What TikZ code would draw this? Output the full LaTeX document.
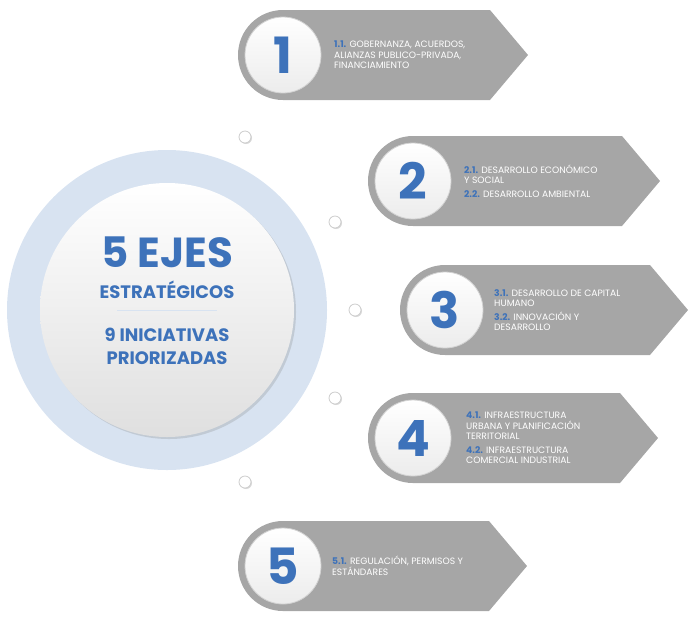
\documentclass[tikz,border=0pt]{standalone}
\usepackage{fontspec}
\setmainfont{Poppins}
\usetikzlibrary{shadows}
\definecolor{bl}{HTML}{3D72BA}
\definecolor{ring}{HTML}{D8E3F1}
\definecolor{gr}{HTML}{A6A6A6}
\tikzset{
  banner/.style={fill=gr, draw=none},
  numdisk/.style={circle, minimum size=76pt, inner sep=0pt, top color=white, bottom color=gray!15, draw=gray!35, line width=0.8pt, text=bl, font=\fontsize{50}{50}\selectfont\bfseries},
  dot/.style={circle, minimum size=12pt, inner sep=0pt, fill=white, draw=gray!40, line width=0.8pt, drop shadow={shadow xshift=1pt, shadow yshift=-1pt, opacity=0.3}},
  btxt/.style={anchor=west, text=white, align=left, font=\fontsize{9.2}{10.5}\selectfont, inner sep=0pt},
  ctr/.style={text=bl, font=\bfseries, align=center}
}
\newcommand{\lab}[1]{\textcolor{bl}{\bfseries #1}}
\newcommand{\bannershape}[3]{% cx cy tip
  \fill[banner] (#1,#2-45) -- (#3-38,#2-45) -- (#3,#2) -- (#3-38,#2+45) -- (#1,#2+45) arc[start angle=90, end angle=270, radius=45] -- cycle;}
\begin{document}
\begin{tikzpicture}[x=1pt,y=-1pt]
\useasboundingbox (0,0) rectangle (700,622);
% central
\node[circle, minimum size=320pt, fill=ring, inner sep=0pt] (ringc) at (167,310) {};
\node[circle, minimum size=254pt, inner sep=0pt, top color=white, bottom color=gray!25, drop shadow={shadow xshift=2pt, shadow yshift=-2pt, opacity=0.25}] (core) at (167,310) {};
\node[ctr, font=\fontsize{42}{42}\selectfont\bfseries] (t1) at (167,252) {5 EJES};
\node[ctr, font=\fontsize{18}{18}\selectfont\bfseries] (t2) at (167,290) {ESTRATÉGICOS};
\draw[ring, line width=0.8pt] (117,310) -- (217,310);
\node[ctr, font=\fontsize{18}{23}\selectfont\bfseries] (t3) at (167,346) {9 INICIATIVAS\\PRIORIZADAS};
% dots
\node[dot] (d1) at (245,137) {};
\node[dot] (d2) at (335,222) {};
\node[dot] (d3) at (355,310) {};
\node[dot] (d4) at (335,398) {};
\node[dot] (d5) at (245,482) {};
% banners
\bannershape{283}{55}{528}
\node[numdisk] (n1) at (283,55) {1};
\node[btxt] (b1) at (334,55) {\lab{1.1.} GOBERNANZA, ACUERDOS,\\ALIANZAS PUBLICO-PRIVADA,\\FINANCIAMIENTO};
\bannershape{413}{181}{660}
\node[numdisk] (n2) at (413,181) {2};
\node[btxt] (b2) at (464,181) {\lab{2.1.} DESARROLLO ECONÓMICO\\Y SOCIAL\\[3pt]\lab{2.2.} DESARROLLO AMBIENTAL};
\bannershape{445}{310}{688}
\node[numdisk] (n3) at (445,310) {3};
\node[btxt] (b3) at (494,310) {\lab{3.1.} DESARROLLO DE CAPITAL\\HUMANO\\[3pt]\lab{3.2.} INNOVACIÓN Y\\DESARROLLO};
\bannershape{413}{438}{658}
\node[numdisk] (n4) at (413,438) {4};
\node[btxt] (b4) at (466,438) {\lab{4.1.} INFRAESTRUCTURA\\URBANA Y PLANIFICACIÓN\\TERRITORIAL\\[3pt]\lab{4.2.} INFRAESTRUCTURA\\COMERCIAL INDUSTRIAL};
\bannershape{283}{566}{527}
\node[numdisk] (n5) at (283,566) {5};
\node[btxt] (b5) at (332,566) {\lab{5.1.} REGULACIÓN, PERMISOS Y\\ESTÁNDARES};
\end{tikzpicture}
\end{document}
